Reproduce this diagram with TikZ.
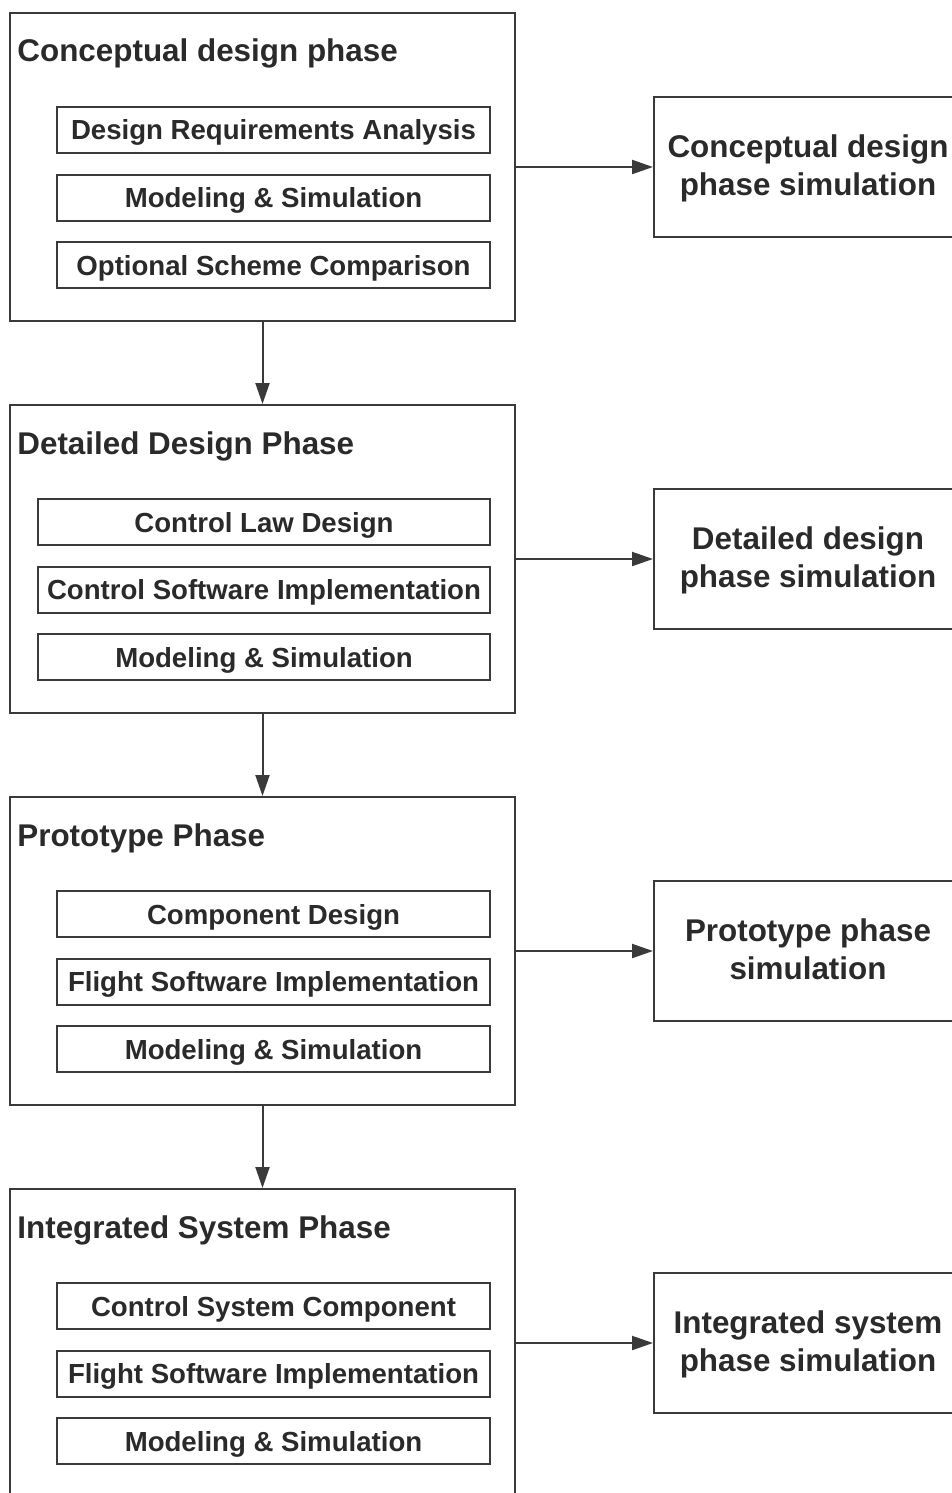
\documentclass[tikz,border=0pt]{standalone}
\usepackage{fontspec}
\setmainfont{Liberation Sans}
\usepackage{tikz}
\usetikzlibrary{arrows.meta}
\definecolor{linegray}{RGB}{58,58,58}
\definecolor{textgray}{RGB}{42,42,42}
\newcommand\phasefont{\fontsize{15.7}{19}\selectfont\bfseries}
\newcommand\taskfont{\fontsize{13.8}{16}\selectfont\bfseries}
\tikzset
{
    phase/.style      = {rectangle, draw=linegray, line width=1pt, minimum width=252.5pt, minimum height=154pt, inner sep=0pt},
    phasetitle/.style = {anchor=base west, inner sep=0pt, text=textgray, font=\phasefont},
    task/.style       = {rectangle, draw=linegray, line width=1pt, minimum width=216.5pt, minimum height=23pt, inner sep=0pt, anchor=east, text height=11pt, text depth=1pt, text=textgray, font=\taskfont},
    widetask/.style   = {task, minimum width=226pt},
    simbox/.style     = {rectangle, draw=linegray, line width=1pt, minimum width=154pt, minimum height=70pt, anchor=west, align=center, text depth=1.5pt, text=textgray, font=\phasefont},
    arrow/.style      = {draw=linegray, line width=1pt, -{Triangle[length=10.5pt, width=7pt]}}
}

\begin{document}
\begin{tikzpicture}[x=0.5pt, y=-0.5pt]

	 \newcommand\PHASEDY{392}
	 \newcommand\SIMDX{137}
	 \newcommand\TASKDX{25}
	 \newcommand\TASKDY{67.5}
	 \newcommand\TITLEDX{8}
	 \newcommand\TITLEDY{50}

	 \useasboundingbox (0, 0) rectangle (952, 1493);

	 \node (p1)	[phase] 	at (262.5, 167)                            	{};
	 \node (p2)	[phase] 	at ([shift=({0, \PHASEDY})]p1)            	{};
	 \node (p3)	[phase] 	at ([shift=({0, \PHASEDY})]p2)            	{};
	 \node (p4)	[phase] 	at ([shift=({0, \PHASEDY})]p3)            	{};

	 \node (t1)	[phasetitle] 	at ([shift=({\TITLEDX, \TITLEDY})]p1.north west) 	{Conceptual design phase};
	 \node (t2)	[phasetitle] 	at ([shift=({\TITLEDX, \TITLEDY})]p2.north west) 	{Detailed Design Phase};
	 \node (t3)	[phasetitle] 	at ([shift=({\TITLEDX, \TITLEDY})]p3.north west) 	{Prototype Phase};
	 \node (t4)	[phasetitle] 	at ([shift=({\TITLEDX, \TITLEDY})]p4.north west) 	{Integrated System Phase};

	 % tasks inside each phase
	 \node (a1)	[task] 		at ([shift=({-\TASKDX, -37})]p1.east)     	{Design Requirements Analysis};
	 \node (b1)	[task] 		at ([shift=({0, \TASKDY})]a1.east)        	{Modeling \& Simulation};
	 \node (c1)	[task] 		at ([shift=({0, \TASKDY})]b1.east)        	{Optional Scheme Comparison};

	 \node (a2)	[widetask] 	at ([shift=({-\TASKDX, -37})]p2.east)     	{Control Law Design};
	 \node (b2)	[widetask] 	at ([shift=({0, \TASKDY})]a2.east)        	{Control Software Implementation};
	 \node (c2)	[widetask] 	at ([shift=({0, \TASKDY})]b2.east)        	{Modeling \& Simulation};

	 \node (a3)	[task] 		at ([shift=({-\TASKDX, -37})]p3.east)     	{Component Design};
	 \node (b3)	[task] 		at ([shift=({0, \TASKDY})]a3.east)        	{Flight Software Implementation};
	 \node (c3)	[task] 		at ([shift=({0, \TASKDY})]b3.east)        	{Modeling \& Simulation};

	 \node (a4)	[task] 		at ([shift=({-\TASKDX, -37})]p4.east)     	{Control System Component};
	 \node (b4)	[task] 		at ([shift=({0, \TASKDY})]a4.east)        	{Flight Software Implementation};
	 \node (c4)	[task] 		at ([shift=({0, \TASKDY})]b4.east)        	{Modeling \& Simulation};

	 % simulation boxes on the right
	 \node (s1)	[simbox] 	at ([shift=({\SIMDX, 0})]p1.east)        	{Conceptual design\\phase simulation};
	 \node (s2)	[simbox] 	at ([shift=({\SIMDX, 0})]p2.east)        	{Detailed design\\phase simulation};
	 \node (s3)	[simbox] 	at ([shift=({\SIMDX, 0})]p3.east)        	{Prototype phase\\simulation};
	 \node (s4)	[simbox] 	at ([shift=({\SIMDX, 0})]p4.east)        	{Integrated system\\phase simulation};

	 \path
		  (p1)     edge[arrow]  (p2)
			(p2)     edge[arrow]  (p3)
			(p3)     edge[arrow]  (p4)
			(p1)     edge[arrow]  (s1)
			(p2)     edge[arrow]  (s2)
			(p3)     edge[arrow]  (s3)
			(p4)     edge[arrow]  (s4);
\end{tikzpicture}
\end{document}
